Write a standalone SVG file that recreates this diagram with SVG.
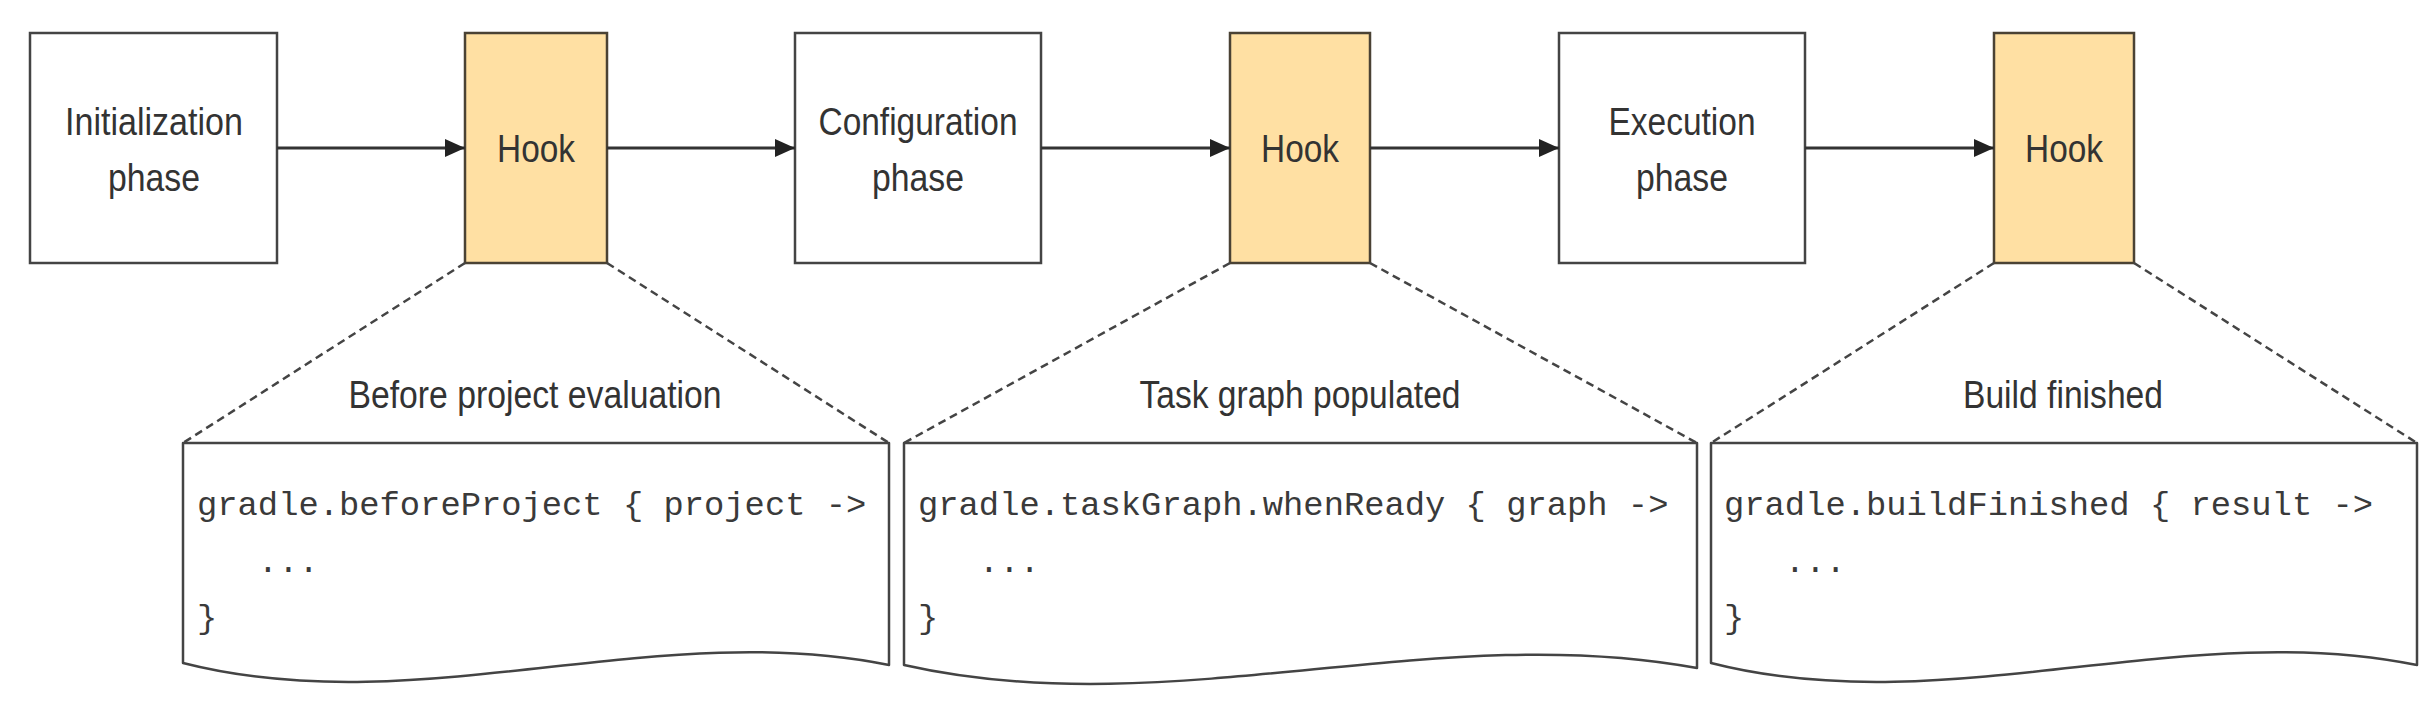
<svg xmlns="http://www.w3.org/2000/svg" width="2426" height="701" viewBox="0 0 2426 701">
<style>
.phase{fill:#ffffff;stroke:#444;stroke-width:2.5}
.hook{fill:#ffe0a3;stroke:#4a4234;stroke-width:2.5}
.code{fill:#ffffff;stroke:#444;stroke-width:2.5;stroke-linejoin:round}
.lbl{font-family:"Liberation Sans",Arial,sans-serif;font-size:38px;fill:#333;text-anchor:middle}
.mono{font-family:"Liberation Mono","Courier New",monospace;font-size:33.8px;fill:#3a3a3a}
.arrow{stroke:#333;stroke-width:3;fill:none}
.dash{stroke:#444;stroke-width:2.5;stroke-dasharray:8 5;fill:none}
</style>
<defs>
<marker id="ah" viewBox="0 0 20 18" refX="20" refY="9" markerWidth="20" markerHeight="18" markerUnits="userSpaceOnUse" orient="auto">
<path d="M0,0 L20,9 L0,18 z" fill="#222"/>
</marker>
</defs>
<rect width="2426" height="701" fill="#ffffff"/>

<g id="init-phase">
<rect class="phase" x="30" y="33" width="247" height="230"/>
<text class="lbl" x="154" y="135" textLength="178" lengthAdjust="spacingAndGlyphs">Initialization</text>
<text class="lbl" x="154" y="191" textLength="92" lengthAdjust="spacingAndGlyphs">phase</text>
</g>
<g id="hook1">
<rect class="hook" x="465" y="33" width="142" height="230"/>
<text class="lbl" x="536" y="162" textLength="78" lengthAdjust="spacingAndGlyphs">Hook</text>
</g>
<g id="config-phase">
<rect class="phase" x="795" y="33" width="246" height="230"/>
<text class="lbl" x="918" y="135" textLength="199" lengthAdjust="spacingAndGlyphs">Configuration</text>
<text class="lbl" x="918" y="191" textLength="92" lengthAdjust="spacingAndGlyphs">phase</text>
</g>
<g id="hook2">
<rect class="hook" x="1230" y="33" width="140" height="230"/>
<text class="lbl" x="1300" y="162" textLength="78" lengthAdjust="spacingAndGlyphs">Hook</text>
</g>
<g id="exec-phase">
<rect class="phase" x="1559" y="33" width="246" height="230"/>
<text class="lbl" x="1682" y="135" textLength="147" lengthAdjust="spacingAndGlyphs">Execution</text>
<text class="lbl" x="1682" y="191" textLength="92" lengthAdjust="spacingAndGlyphs">phase</text>
</g>
<g id="hook3">
<rect class="hook" x="1994" y="33" width="140" height="230"/>
<text class="lbl" x="2064" y="162" textLength="78" lengthAdjust="spacingAndGlyphs">Hook</text>
</g>

<g id="connectors">
<line class="arrow" x1="277" y1="148" x2="465" y2="148" marker-end="url(#ah)"/>
<line class="arrow" x1="607" y1="148" x2="795" y2="148" marker-end="url(#ah)"/>
<line class="arrow" x1="1041" y1="148" x2="1230" y2="148" marker-end="url(#ah)"/>
<line class="arrow" x1="1370" y1="148" x2="1559" y2="148" marker-end="url(#ah)"/>
<line class="arrow" x1="1805" y1="148" x2="1994" y2="148" marker-end="url(#ah)"/>
<line class="dash" x1="465" y1="263" x2="183" y2="443"/>
<line class="dash" x1="607" y1="263" x2="889" y2="443"/>
<line class="dash" x1="1230" y1="263" x2="904" y2="443"/>
<line class="dash" x1="1370" y1="263" x2="1697" y2="443"/>
<line class="dash" x1="1994" y1="263" x2="1711" y2="443"/>
<line class="dash" x1="2134" y1="263" x2="2417" y2="443"/>
</g>

<g id="label-before-project">
<text class="lbl" x="535" y="408" textLength="373" lengthAdjust="spacingAndGlyphs">Before project evaluation</text>
</g>
<g id="label-task-graph">
<text class="lbl" x="1300" y="408" textLength="321" lengthAdjust="spacingAndGlyphs">Task graph populated</text>
</g>
<g id="label-build-finished">
<text class="lbl" x="2063" y="408" textLength="200" lengthAdjust="spacingAndGlyphs">Build finished</text>
</g>

<g id="code-before-project">
<path class="code" d="M183,443 H889 V665 C654,617 418,723 183,663 Z"/>
<text class="mono" x="197" y="515">gradle.beforeProject { project -&gt;</text>
<text class="mono" x="197" y="572" xml:space="preserve">   ...</text>
<text class="mono" x="197" y="628">}</text>
</g>
<g id="code-task-graph">
<path class="code" d="M904,443 H1697 V668 C1433,619 1168,725 904,665 Z"/>
<text class="mono" x="918" y="515">gradle.taskGraph.whenReady { graph -&gt;</text>
<text class="mono" x="918" y="572" xml:space="preserve">   ...</text>
<text class="mono" x="918" y="628">}</text>
</g>
<g id="code-build-finished">
<path class="code" d="M1711,443 H2417 V665 C2182,617 1946,723 1711,663 Z"/>
<text class="mono" x="1724" y="515">gradle.buildFinished { result -&gt;</text>
<text class="mono" x="1724" y="572" xml:space="preserve">   ...</text>
<text class="mono" x="1724" y="628">}</text>
</g>
</svg>
